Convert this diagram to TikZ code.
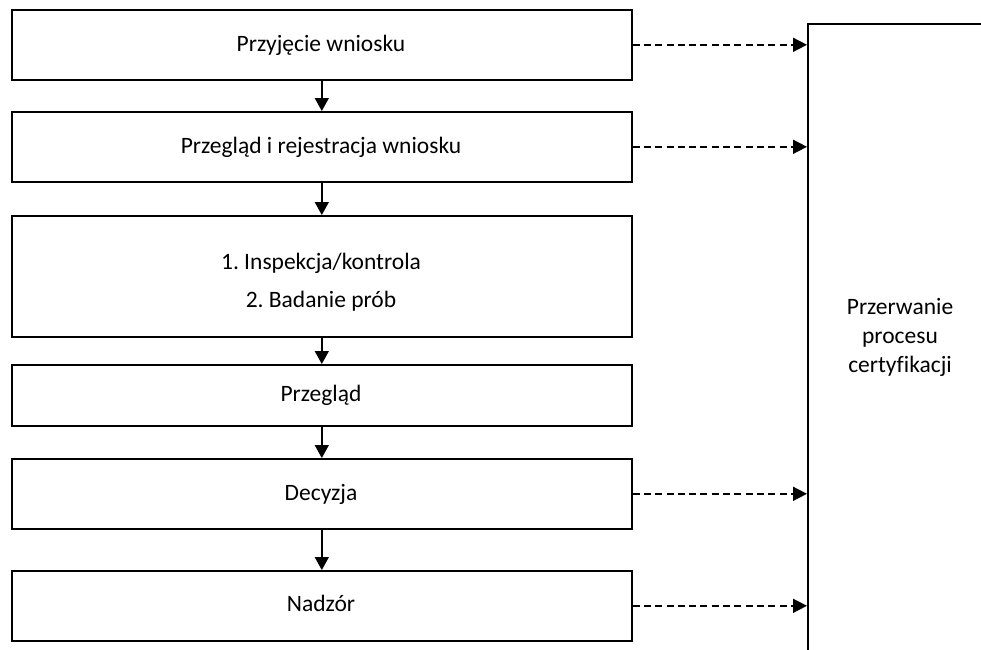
\documentclass[tikz,border=0pt]{standalone}
\usepackage{fontspec}
\setmainfont{Carlito}[Ligatures={NoCommon}]
\frenchspacing
\usetikzlibrary{arrows.meta}
\begin{document}
\begin{tikzpicture}[x=1pt,y=-1pt,
  every node/.style={font=\fontsize{23.5}{28}\selectfont},
  lbl/.style={anchor=base, inner sep=0pt},
  stepbox/.style={draw, line width=1.6pt, minimum width=620pt, inner sep=0pt, anchor=north west},
  flow/.style={line width=1.6pt, -{Triangle[length=13pt,width=14pt]}},
  dashlink/.style={line width=1.6pt, dash pattern=on 7pt off 4.3pt, -{Triangle[length=14pt,width=14pt]}}]
\useasboundingbox (0,0) rectangle (981,649);
\clip (0,0) rectangle (981,649);
\fill[white] (0,0) rectangle (981,649);
\node[stepbox, minimum height=70pt] (b1) at (11,9) {};
\node[lbl] (t1) at (321,51) {Przyjęcie wniosku};
\node[stepbox, minimum height=70pt] (b2) at (11,111) {};
\node[lbl] (t2) at (321,153) {Przegląd i rejestracja wniosku};
\node[stepbox, minimum height=121pt] (b3) at (11,215) {};
\node[lbl] (t31) at (321,269) {1. Inspekcja/kontrola};
\node[lbl] (t32) at (321,307) {2. Badanie prób};
\node[stepbox, minimum height=61pt] (b4) at (11,364) {};
\node[lbl] (t4) at (321,401.5) {Przegląd};
\node[stepbox, minimum height=70pt] (b5) at (11,458) {};
\node[lbl] (t5) at (321,500) {Decyzja};
\node[stepbox, minimum height=70pt] (b6) at (11,570) {};
\node[lbl] (t6) at (321,611.5) {Nadzór};
\node[draw, line width=1.6pt, minimum width=300pt, minimum height=700pt, anchor=north west, inner sep=0pt] (stop) at (807,23) {};
\node[lbl] (s1) at (900,314) {Przerwanie};
\node[lbl] (s2) at (900,343) {procesu};
\node[lbl] (s3) at (900,372) {certyfikacji};
\draw[flow] (b1.south) -- (b2.north);
\draw[flow] (b2.south) -- (b3.north);
\draw[flow] (b3.south) -- (b4.north);
\draw[flow] (b4.south) -- (b5.north);
\draw[flow] (b5.south) -- (b6.north);
\draw[dashlink] (b1.east) -- (stop.west |- b1.east);
\draw[dashlink] (b2.east) -- (stop.west |- b2.east);
\draw[dashlink] (b5.east) -- (stop.west |- b5.east);
\draw[dashlink] (b6.east) -- (stop.west |- b6.east);
\end{tikzpicture}
\end{document}
